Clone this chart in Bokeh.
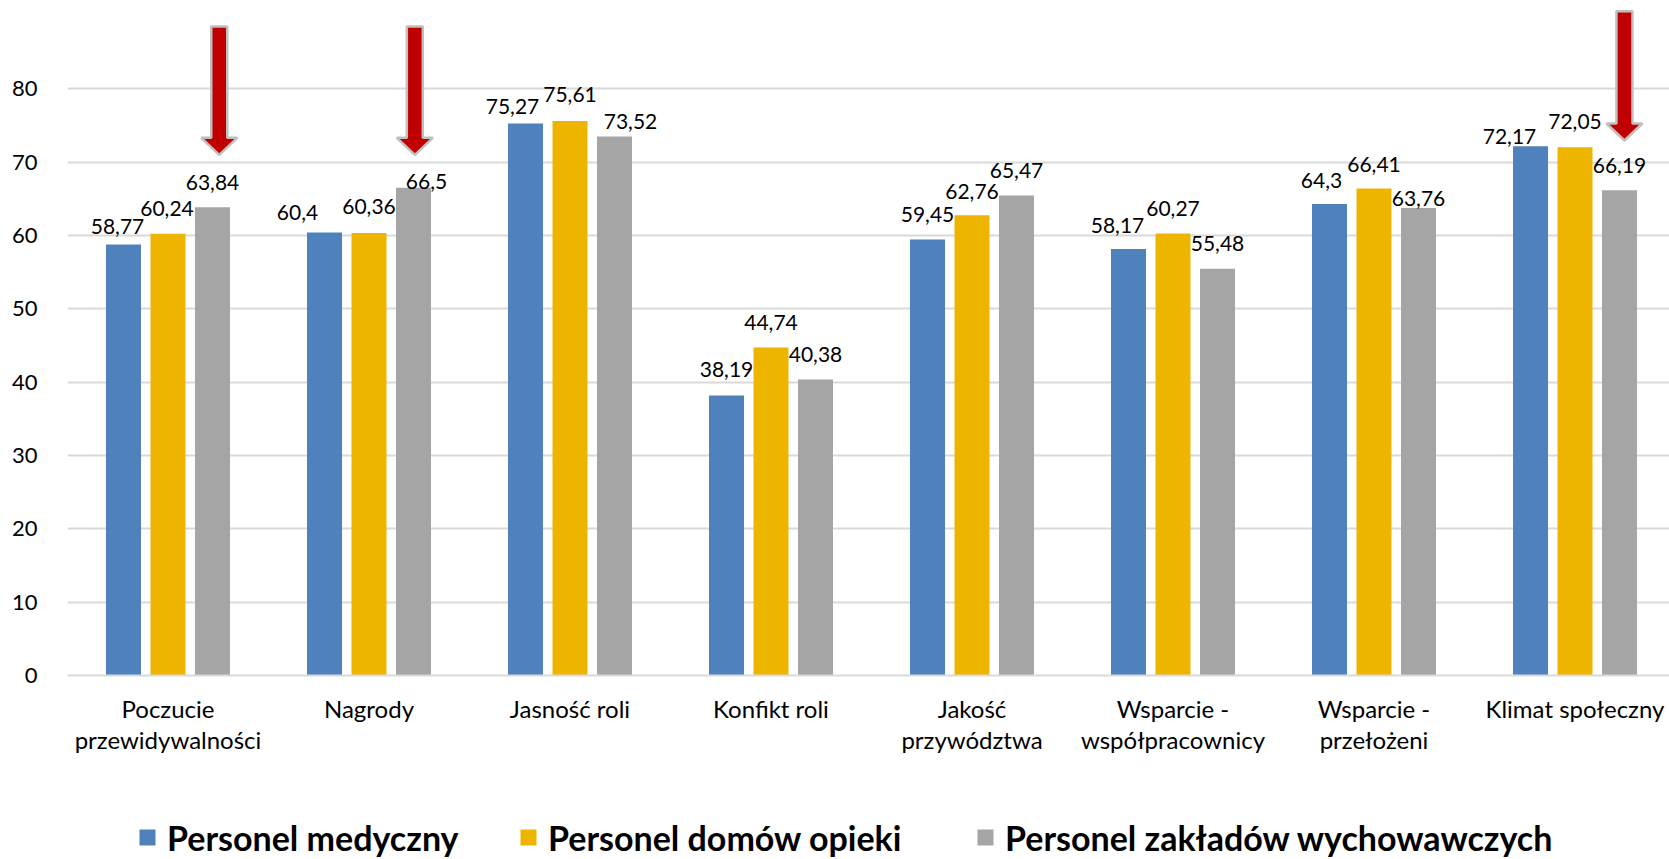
import numpy as np
from bokeh.plotting import figure
from bokeh.layouts import column
from bokeh.models import ColumnDataSource, Range1d, FixedTicker, Legend, LegendItem
from bokeh.core.properties import value
from bokeh.embed import file_html
from bokeh.resources import INLINE

# ---------------- data ----------------
categories = [
    "Poczucie\nprzewidywalności",
    "Nagrody",
    "Jasność roli",
    "Konfikt roli",
    "Jakość\nprzywództwa",
    "Wsparcie -\nwspółpracownicy",
    "Wsparcie -\nprzełożeni",
    "Klimat społeczny",
]
series_names = ["Personel medyczny", "Personel domów opieki", "Personel zakładów wychowawczych"]
medyczny = [58.77, 60.4, 75.27, 38.19, 59.45, 58.17, 64.3, 72.17]
domy_opieki = [60.24, 60.36, 75.61, 44.74, 62.76, 60.27, 66.41, 72.05]
zaklady = [63.84, 66.5, 73.52, 40.38, 65.47, 55.48, 63.76, 66.19]
y_ticks = [0, 10, 20, 30, 40, 50, 60, 70, 80]

# red arrows (category position, tip value, top value)
arrow_x = [0.255, 1.228, 7.246]
arrow_tip = [71.0, 71.0, 72.96]
arrow_top = [88.5, 88.5, 90.6]

# data-label nudges in pixels (Excel moved overlapping labels)
lab_dx = [
    [-6, -27, -13, 0, 0, -11, -8, -21],
    [-1, 0, 0, 0, 0, 0, 0, 0],
    [0, 13, 16, 0, 0, 0, 0, 0],
]
lab_dy = [
    [7, 5, 7.5, -1, 0, 2, 2, 15],
    [0, -1, -1.5, 0, 1, -0.5, 1, -1],
    [0, 19, 10, 0, 0, 0, 16, 0],
]

# ---------------- styling ----------------
colors = ["#4F81BD", "#EDB500", "#A5A5A5"]
FONT = "Lato"
PX_PER_CAT = 201.0
PX_PER_UNIT = 7.333
W = 1669
H_MAIN, H_LEG = 813, 46
BL, BB = 67, 138
frame_w = W - BL
frame_h = H_MAIN - BB

p = figure(
    width=W, height=H_MAIN,
    x_range=Range1d(-0.5, -0.5 + frame_w / PX_PER_CAT),
    y_range=Range1d(0, frame_h / PX_PER_UNIT),
    output_backend="svg", toolbar_location=None,
    min_border_left=BL, min_border_right=0, min_border_top=0, min_border_bottom=BB,
)
p.outline_line_color = None
p.background_fill_color = "white"
p.border_fill_color = "white"

idx = np.arange(len(categories))
offsets = [-44.5 / PX_PER_CAT, 0.0, 44.5 / PX_PER_CAT]
bar_w = 35.0 / PX_PER_CAT

for k, vals in enumerate([medyczny, domy_opieki, zaklady]):
    src = ColumnDataSource(dict(
        x=idx + offsets[k],
        top=vals,
        lbl=[("%g" % v).replace(".", ",") for v in vals],
        dx=lab_dx[k],
        dy=[-25 + d for d in lab_dy[k]],
    ))
    p.vbar(x="x", top="top", width=bar_w, bottom=0, source=src,
           fill_color=colors[k], line_color=None)
    p.text(x="x", y="top", text="lbl", source=src, x_offset="dx", y_offset="dy",
           text_font=value(FONT), text_font_size="21px", text_color="#000000",
           text_align="center", text_baseline="middle")

# arrows
hs = 8.0 / PX_PER_CAT
hh = 18.0 / PX_PER_CAT
hl = 17.0 / PX_PER_UNIT
axs, ays = [], []
for cx, tip, top in zip(arrow_x, arrow_tip, arrow_top):
    axs.append([cx - hs, cx + hs, cx + hs, cx + hh, cx, cx - hh, cx - hs])
    ays.append([top, top, tip + hl, tip + hl, tip, tip + hl, tip + hl])
p.patches(axs, ays, fill_color="#C00000", line_color="#BFBFBF", line_width=2.5)

# axes
p.xaxis.ticker = FixedTicker(ticks=list(range(len(categories))))
p.xaxis.major_label_overrides = {i: c for i, c in enumerate(categories)}
p.xaxis.axis_line_color = "#D9D9D9"
p.xaxis.axis_line_width = 2
p.xaxis.major_tick_line_color = None
p.xaxis.minor_tick_line_color = None
p.xaxis.major_label_text_font = FONT
p.xaxis.major_label_text_font_size = "24px"
p.xaxis.major_label_text_color = "#000000"
p.xaxis.major_label_text_line_height = 1.1
p.xaxis.major_label_standoff = 12

p.yaxis.ticker = FixedTicker(ticks=y_ticks)
p.yaxis.axis_line_color = None
p.yaxis.major_tick_line_color = None
p.yaxis.minor_tick_line_color = None
p.yaxis.major_label_text_font = FONT
p.yaxis.major_label_text_font_size = "22px"
p.yaxis.major_label_text_color = "#000000"
p.yaxis.major_label_standoff = 24

p.xgrid.grid_line_color = None
p.ygrid.ticker = FixedTicker(ticks=y_ticks)
p.ygrid.grid_line_color = "#D9D9D9"
p.ygrid.grid_line_width = 2

# ---------------- legend strip ----------------
lg = figure(
    width=W, height=H_LEG, x_range=Range1d(0, 1), y_range=Range1d(0, 1),
    output_backend="svg", toolbar_location=None,
    x_axis_type=None, y_axis_type=None,
    min_border_left=0, min_border_right=0, min_border_top=0, min_border_bottom=0,
)
lg.outline_line_color = None
lg.xgrid.grid_line_color = None
lg.ygrid.grid_line_color = None
legend_x = [70, 451, 908]
for k, name in enumerate(series_names):
    r = lg.vbar(x=[-10], top=[0], width=0.1, fill_color=colors[k], line_color=None)
    leg = Legend(
        items=[LegendItem(label=name, renderers=[r])],
        orientation="horizontal", location=(legend_x[k], 1),
        glyph_width=20, glyph_height=20, label_height=42, label_standoff=10,
        padding=0, margin=0, border_line_color=None, background_fill_alpha=0,
        label_text_font=FONT, label_text_font_style="bold", label_text_font_size="34px",
        label_text_color="#000000",
    )
    lg.add_layout(leg)

layout = column(p, lg, spacing=0)
open("out.html", "w").write(file_html(layout, INLINE))
